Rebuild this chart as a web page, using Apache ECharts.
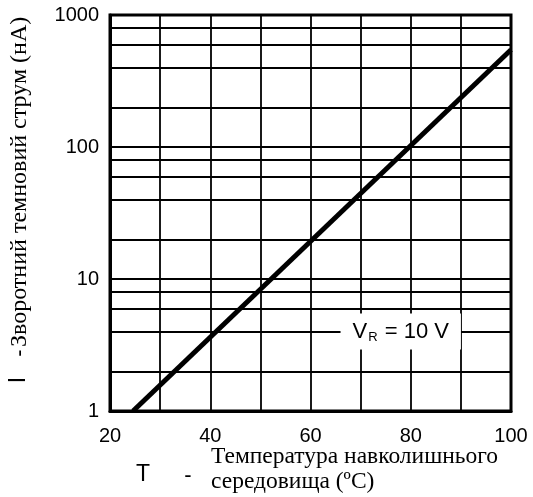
<!DOCTYPE html>
<html>
<head>
<meta charset="utf-8">
<script src="https://cdn.jsdelivr.net/npm/echarts@6/dist/echarts.min.js"></script>
<style>
  html, body { margin: 0; padding: 0; background: #fff; }
  #chart { width: 533px; height: 497px; }
</style>
</head>
<body>
<div id="chart"></div>
<script>
// Reverse dark current vs ambient temperature (log scale)
const temps = [24.6, 100];          // °C
const currents = [1, 545];          // nA
const xTickLabels = [20, 40, 60, 80, 100];
const yMinorLines = [2, 4, 6, 8, 20, 40, 60, 80, 200, 400, 600, 800];
const noteAt = [78, 4];             // position of the V_R note (°C, nA)

const sans = '"Liberation Sans", Arial, sans-serif';
const serif = '"Liberation Serif", "Times New Roman", serif';

const chart = echarts.init(document.getElementById('chart'));

chart.setOption({
  animation: false,
  backgroundColor: '#fff',
  grid: {
    left: 110, right: 22, top: 15, bottom: 86,
    show: true, borderColor: '#000', borderWidth: 3
  },
  xAxis: {
    type: 'value', min: 20, max: 100, interval: 10,
    axisLine: { show: true, lineStyle: { color: '#000', width: 3 } },
    axisTick: { show: false },
    splitLine: { show: true, lineStyle: { color: '#000', width: 1.8 } },
    axisLabel: {
      color: '#000', fontFamily: sans, fontSize: 20, margin: 15,
      formatter: v => xTickLabels.indexOf(v) >= 0 ? String(v) : ''
    }
  },
  yAxis: {
    type: 'log', logBase: 10, min: 1, max: 1000,
    axisLine: { show: true, lineStyle: { color: '#000', width: 3 } },
    axisTick: { show: false },
    splitLine: { show: true, lineStyle: { color: '#000', width: 1.8 } },
    axisLabel: {
      color: '#000', fontFamily: sans, fontSize: 20, margin: 11,
      formatter: v => String(Math.round(v))
    }
  },
  series: [{
    type: 'line',
    data: temps.map((t, i) => [t, currents[i]]),
    showSymbol: false,
    lineStyle: { color: '#000', width: 5 },
    z: 5,
    markLine: {
      silent: true,
      symbol: ['none', 'none'],
      label: { show: false },
      lineStyle: { color: '#000', width: 1.8, type: 'solid' },
      data: yMinorLines.map(v => ({ yAxis: v }))
    },
    markPoint: {
      silent: true,
      symbol: 'rect',
      symbolSize: 0,
      data: [{ coord: noteAt }],
      label: {
        show: true,
        position: 'inside',
        backgroundColor: '#fff',
        padding: [6, 12, 6, 12],
        formatter: '{v|V}{r|R}{v| = 10 V}',
        rich: {
          v: { fontFamily: sans, fontSize: 22, color: '#000', lineHeight: 24 },
          r: { fontFamily: sans, fontSize: 13, color: '#000', padding: [12, 1, 0, 1], lineHeight: 24 }
        }
      }
    }
  }],
  graphic: [
    // vertical axis title
    { type: 'text', x: 19, y: 380, rotation: Math.PI / 2,
      style: { text: 'I', font: '23px ' + sans, fill: '#000', align: 'center', verticalAlign: 'middle' } },
    { type: 'text', x: 20, y: 353, rotation: Math.PI / 2,
      style: { text: '-', font: '22px ' + sans, fill: '#000', align: 'center', verticalAlign: 'middle' } },
    { type: 'text', x: 20, y: 347, rotation: Math.PI / 2,
      style: { text: 'Зворотний темновий струм (нА)', font: '24px ' + serif, fill: '#000', align: 'left', verticalAlign: 'middle' } },
    // horizontal axis title
    { type: 'text', x: 143, y: 475,
      style: { text: 'T', font: '23px ' + sans, fill: '#000', align: 'center', verticalAlign: 'middle' } },
    { type: 'text', x: 188, y: 476,
      style: { text: '-', font: '22px ' + sans, fill: '#000', align: 'center', verticalAlign: 'middle' } },
    { type: 'text', x: 211, y: 469,
      style: { text: 'Температура навколишнього', font: '23.5px ' + serif, fill: '#000', align: 'left', verticalAlign: 'bottom' } },
    { type: 'text', x: 211, y: 494,
      style: { text: 'середовища (ºС)', font: '23.5px ' + serif, fill: '#000', align: 'left', verticalAlign: 'bottom' } }
  ]
});
</script>
</body>
</html>
